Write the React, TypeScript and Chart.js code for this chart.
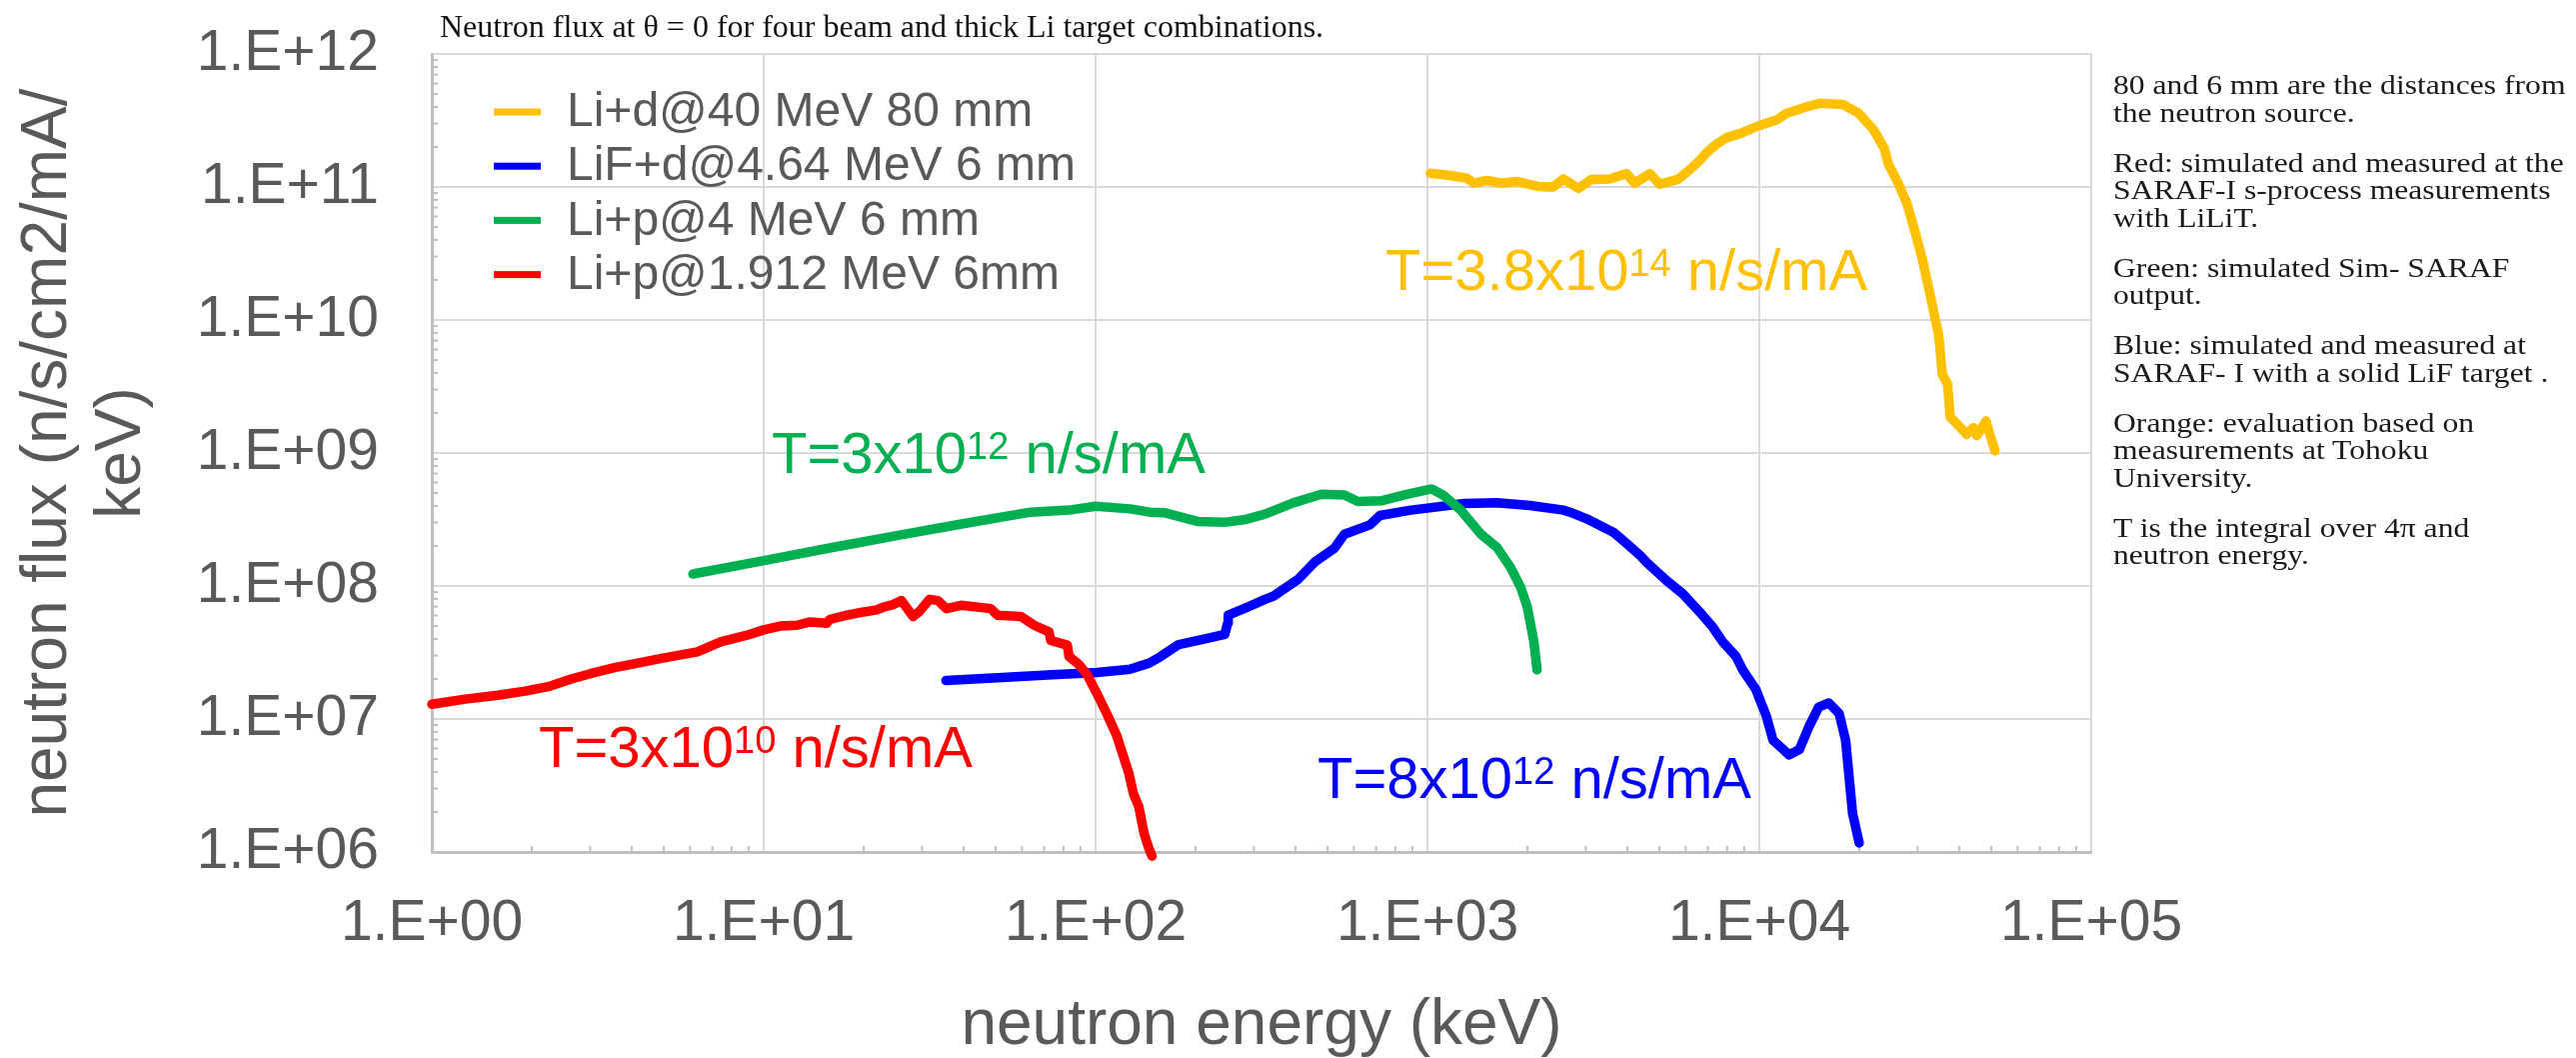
import React, { useEffect, useRef } from 'react';
import { Chart, registerables } from 'chart.js';

Chart.register(...registerables);

// ---------- data ----------
const xTickValues = [1, 10, 100, 1000, 10000, 100000];
const xTickLabels = ['1.E+00', '1.E+01', '1.E+02', '1.E+03', '1.E+04', '1.E+05'];
const yTickValues = [1e6, 1e7, 1e8, 1e9, 1e10, 1e11, 1e12];
const yTickLabels = ['1.E+06', '1.E+07', '1.E+08', '1.E+09', '1.E+10', '1.E+11', '1.E+12'];

const seriesLabels = ['Li+d@40 MeV 80 mm', 'LiF+d@4.64 MeV 6 mm', 'Li+p@4 MeV 6 mm', 'Li+p@1.912 MeV 6mm'];
const seriesColors = ['#FFC000', '#0000FF', '#00B050', '#FF0000'];

// Li+d@40 MeV 80 mm (orange)
const orangeEnergy = [1020, 1140, 1310, 1380, 1510, 1680, 1860, 2150, 2390, 2570, 2850, 3120, 3530, 3980, 4210, 4680, 5010, 5690, 6170, 6610, 6920, 7410, 7940, 8830, 9820, 11300, 12100, 14000, 15300, 17900, 19900, 22100, 23800, 24500, 26300, 27900, 29400, 30900, 32700, 33800, 34700, 35600, 36900, 37600, 40400, 42100, 44100, 45200, 48200, 49500, 51300];
const orangeFlux = [1.27e11, 1.23e11, 1.17e11, 1.07e11, 1.12e11, 1.07e11, 1.10e11, 1.01e11, 1.0e11, 1.15e11, 9.77e10, 1.14e11, 1.15e11, 1.26e11, 1.07e11, 1.26e11, 1.05e11, 1.14e11, 1.35e11, 1.58e11, 1.80e11, 2.09e11, 2.34e11, 2.54e11, 2.85e11, 3.20e11, 3.59e11, 4.03e11, 4.27e11, 4.17e11, 3.59e11, 2.69e11, 1.95e11, 1.48e11, 1.05e11, 7.41e10, 4.68e10, 2.95e10, 1.55e10, 1.05e10, 7.76e9, 3.89e9, 3.31e9, 1.86e9, 1.55e9, 1.38e9, 1.55e9, 1.35e9, 1.74e9, 1.38e9, 1.04e9];

// LiF+d@4.64 MeV 6 mm (blue)
const blueEnergy = [35.4, 50.6, 71.6, 101, 127, 145, 157, 178, 212, 245, 250, 251, 286, 324, 344, 407, 457, 525, 562, 671, 719, 891, 1000, 1290, 1620, 2040, 2570, 2690, 3020, 3630, 3980, 4370, 4570, 5250, 5890, 6610, 7240, 7760, 8510, 8910, 9770, 10500, 11000, 11700, 12300, 13200, 14100, 15100, 16200, 17400, 18200, 18600, 19100, 20000];
const blueFlux = [1.95e7, 2.04e7, 2.14e7, 2.24e7, 2.37e7, 2.63e7, 2.95e7, 3.63e7, 3.98e7, 4.32e7, 5.25e7, 6.03e7, 6.92e7, 7.94e7, 8.41e7, 1.12e8, 1.51e8, 1.93e8, 2.45e8, 2.88e8, 3.39e8, 3.72e8, 3.85e8, 4.17e8, 4.22e8, 4.03e8, 3.72e8, 3.59e8, 3.20e8, 2.54e8, 2.09e8, 1.70e8, 1.51e8, 1.10e8, 8.71e7, 6.38e7, 4.90e7, 3.80e7, 2.95e7, 2.34e7, 1.66e7, 1.05e7, 6.92e6, 6.03e6, 5.37e6, 5.89e6, 8.71e6, 1.23e7, 1.32e7, 1.10e7, 6.92e6, 3.89e6, 1.95e6, 1.17e6];

// Li+p@4 MeV 6 mm (green)
const greenEnergy = [6.12, 10.0, 15.8, 25.4, 40.2, 63.7, 83.2, 100, 127, 146, 162, 180, 204, 245, 282, 324, 394, 479, 562, 617, 724, 871, 1030, 1120, 1260, 1450, 1620, 1780, 1910, 2000, 2090, 2140];
const greenFlux = [1.23e8, 1.55e8, 1.93e8, 2.40e8, 2.95e8, 3.59e8, 3.72e8, 3.98e8, 3.80e8, 3.59e8, 3.55e8, 3.31e8, 3.05e8, 3.01e8, 3.16e8, 3.47e8, 4.22e8, 4.90e8, 4.84e8, 4.32e8, 4.37e8, 4.90e8, 5.37e8, 4.79e8, 3.72e8, 2.45e8, 1.95e8, 1.38e8, 9.77e7, 6.92e7, 3.89e7, 2.34e7];

// Li+p@1.912 MeV 6mm (red)
const redEnergy = [1.0, 1.26, 1.58, 1.91, 2.24, 2.63, 3.02, 3.55, 4.17, 5.01, 6.31, 7.41, 8.91, 10.0, 11.2, 12.6, 13.8, 15.5, 15.8, 17.8, 20.0, 21.9, 22.9, 24.5, 26.0, 26.9, 28.2, 29.5, 31.6, 33.5, 35.5, 39.3, 48.3, 50.6, 59.6, 65.3, 72.4, 73.3, 82.2, 83.2, 89.1, 94.4, 101, 108, 116, 120, 126, 130, 135, 140, 145, 148];
const redFlux = [1.29e7, 1.41e7, 1.51e7, 1.62e7, 1.75e7, 2.0e7, 2.2e7, 2.43e7, 2.63e7, 2.88e7, 3.2e7, 3.8e7, 4.27e7, 4.68e7, 5.0e7, 5.07e7, 5.37e7, 5.25e7, 5.6e7, 6.03e7, 6.38e7, 6.61e7, 6.92e7, 7.24e7, 7.76e7, 6.92e7, 5.89e7, 6.46e7, 7.94e7, 7.76e7, 6.76e7, 7.16e7, 6.76e7, 6.03e7, 5.89e7, 5.07e7, 4.52e7, 3.89e7, 3.59e7, 2.95e7, 2.57e7, 2.14e7, 1.55e7, 1.10e7, 7.41e6, 5.69e6, 3.89e6, 2.75e6, 2.19e6, 1.38e6, 1.05e6, 9.3e5];

// Annotations "T = ..." (one per series, same order as above)
const totalBase = ['T=3.8x10', 'T=8x10', 'T=3x10', 'T=3x10'];
const totalExp = ['14', '12', '12', '10'];
const totalUnit = ' n/s/mA';

const chartTitle = 'Neutron flux at \u03B8 = 0 for four beam and thick Li target combinations.';
const xAxisTitle = 'neutron energy (keV)';
const yAxisTitle = ['neutron flux (n/s/cm2/mA/', 'keV)'];

const noteParagraphs = [
  ['80 and 6 mm are the distances from', 'the neutron source.'],
  ['Red: simulated and measured at the', 'SARAF-I s-process measurements', 'with LiLiT.'],
  ['Green: simulated Sim- SARAF', 'output.'],
  ['Blue: simulated and measured at', 'SARAF- I with a solid LiF target .'],
  ['Orange: evaluation based on', 'measurements at Tohoku', 'University.'],
  ['T is the integral over 4\u03C0 and', 'neutron energy.'],
];

// ---------- styling ----------
const SANS = "'Liberation Sans', Arial, Helvetica, sans-serif";
const SERIF = "'Liberation Serif', 'Times New Roman', serif";
const GRAY = '#595959';
const W = 2577;
const H = 1058;

// label positions (pixels) for the T annotations, same order as series
const totalPos = [
  [1386, 290],
  [1318, 798],
  [772, 473],
  [539, 767],
];

const overlayPlugin = {
  id: 'overlay',
  beforeDatasetsDraw(chart: any) {
    const ctx = chart.ctx;
    const xs = chart.scales.x;
    const ys = chart.scales.y;
    ctx.save();
    ctx.strokeStyle = '#bfbfbf';
    ctx.lineWidth = 2;
    for (let d = 6; d < 12; d++) {
      for (let k = 2; k <= 9; k++) {
        const y = ys.getPixelForValue(k * Math.pow(10, d));
        ctx.beginPath();
        ctx.moveTo(xs.left, y);
        ctx.lineTo(xs.left + 6, y);
        ctx.stroke();
      }
    }
    for (let d = 0; d < 5; d++) {
      for (let k = 2; k <= 9; k++) {
        const x = xs.getPixelForValue(k * Math.pow(10, d));
        ctx.beginPath();
        ctx.moveTo(x, ys.bottom);
        ctx.lineTo(x, ys.bottom - 6);
        ctx.stroke();
      }
    }
    ctx.restore();
  },
  afterDraw(chart: any) {
    const ctx = chart.ctx;
    ctx.save();
    // legend
    ctx.font = `48px ${SANS}`;
    ctx.textBaseline = 'middle';
    ctx.textAlign = 'left';
    chart.data.datasets.forEach((ds: any, i: number) => {
      const y = 112 + i * 54.2;
      ctx.fillStyle = ds.borderColor;
      ctx.fillRect(494, y - 3.5, 47, 7);
      ctx.fillStyle = GRAY;
      ctx.fillText(ds.label, 567, y + 1);
    });
    // T annotations
    ctx.textBaseline = 'alphabetic';
    totalBase.forEach((base, i) => {
      const [x0, y0] = totalPos[i];
      ctx.fillStyle = seriesColors[i];
      ctx.font = `58px ${SANS}`;
      ctx.fillText(base, x0, y0);
      let x = x0 + ctx.measureText(base).width;
      ctx.font = `38px ${SANS}`;
      ctx.fillText(totalExp[i], x, y0 - 14);
      x += ctx.measureText(totalExp[i]).width;
      ctx.font = `58px ${SANS}`;
      ctx.fillText(totalUnit, x, y0);
    });
    ctx.restore();
  },
};

function makeData(energy: number[], flux: number[]) {
  return energy.map((e, i) => ({ x: e, y: flux[i] }));
}

export default function App() {
  const canvasRef = useRef<HTMLCanvasElement | null>(null);

  useEffect(() => {
    const canvas = canvasRef.current;
    if (!canvas) return;
    const series = [
      makeData(orangeEnergy, orangeFlux),
      makeData(blueEnergy, blueFlux),
      makeData(greenEnergy, greenFlux),
      makeData(redEnergy, redFlux),
    ];
    const chart = new Chart(canvas, {
      type: 'line',
      data: {
        datasets: series.map((data, i) => ({
          label: seriesLabels[i],
          data,
          borderColor: seriesColors[i],
          backgroundColor: seriesColors[i],
          borderWidth: 9.5,
          pointRadius: 0,
          pointHoverRadius: 0,
          tension: 0,
          fill: false,
          borderCapStyle: 'round',
          borderJoinStyle: 'round',
          order: 4 - i,
          clip: { left: 6, top: 6, right: 6, bottom: 12 },
        })),
      },
      options: {
        responsive: false,
        maintainAspectRatio: false,
        animation: false,
        devicePixelRatio: 1,
        events: [],
        layout: { padding: { left: 0, right: 485, top: 54, bottom: 0 } },
        plugins: {
          legend: { display: false },
          tooltip: { enabled: false },
          title: { display: false },
        },
        scales: {
          x: {
            type: 'logarithmic',
            position: 'bottom',
            min: 1,
            max: 100000,
            afterBuildTicks: (s: any) => {
              s.ticks = xTickValues.map((v) => ({ value: v, major: true }));
            },
            afterFit: (s: any) => {
              s.height = 206;
              s.paddingLeft = 0;
              s.paddingRight = 0;
            },
            ticks: {
              callback: (_v: any, i: number) => xTickLabels[i],
              font: { family: SANS, size: 57 },
              color: GRAY,
              padding: 38,
              autoSkip: false,
              maxRotation: 0,
              minRotation: 0,
            },
            grid: { color: '#d9d9d9', lineWidth: 2, drawTicks: false },
            border: { color: '#bfbfbf', width: 3 },
            title: {
              display: true,
              text: xAxisTitle,
              font: { family: SANS, size: 64, lineHeight: 1 },
              color: GRAY,
              padding: { top: 0, bottom: 0 },
            },
          },
          y: {
            type: 'logarithmic',
            position: 'left',
            min: 1e6,
            max: 1e12,
            afterBuildTicks: (s: any) => {
              s.ticks = yTickValues.map((v) => ({ value: v, major: true }));
            },
            afterFit: (s: any) => {
              s.width = 432;
              s.paddingTop = 0;
              s.paddingBottom = 0;
            },
            ticks: {
              callback: (_v: any, i: number) => yTickLabels[i],
              font: { family: SANS, size: 57 },
              color: GRAY,
              padding: 53,
              autoSkip: false,
            },
            grid: { color: '#d9d9d9', lineWidth: 2, drawTicks: false },
            border: { color: '#bfbfbf', width: 3 },
            title: {
              display: true,
              text: yAxisTitle,
              font: { family: SANS, size: 64, lineHeight: 1.17 },
              color: GRAY,
              padding: { top: 10.5, bottom: 0 },
            },
          },
        },
      } as any,
      plugins: [overlayPlugin as any],
    });
    return () => chart.destroy();
  }, []);

  return (
    <div style={{ position: 'fixed', left: 0, top: 0, width: W, height: H, background: '#ffffff', overflow: 'hidden' }}>
      <canvas ref={canvasRef} width={W} height={H} style={{ position: 'absolute', left: 0, top: 0, width: W, height: H }} />
      <div
        style={{
          position: 'absolute',
          left: 440,
          top: 10,
          fontFamily: SERIF,
          fontSize: 32,
          lineHeight: '32px',
          whiteSpace: 'nowrap',
          color: '#111',
        }}
      >
        {chartTitle}
      </div>
      <div
        style={{
          position: 'absolute',
          left: 2114,
          top: 71,
          fontFamily: SERIF,
          fontSize: 28,
          lineHeight: '27.5px',
          whiteSpace: 'nowrap',
          color: '#1a1a1a',
          transform: 'scaleX(1.13)',
          transformOrigin: '0 0',
        }}
      >
        {noteParagraphs.map((p, i) => (
          <div key={i} style={{ marginBottom: 22.5 }}>
            {p.map((line, j) => (
              <div key={j}>{line}</div>
            ))}
          </div>
        ))}
      </div>
    </div>
  );
}
